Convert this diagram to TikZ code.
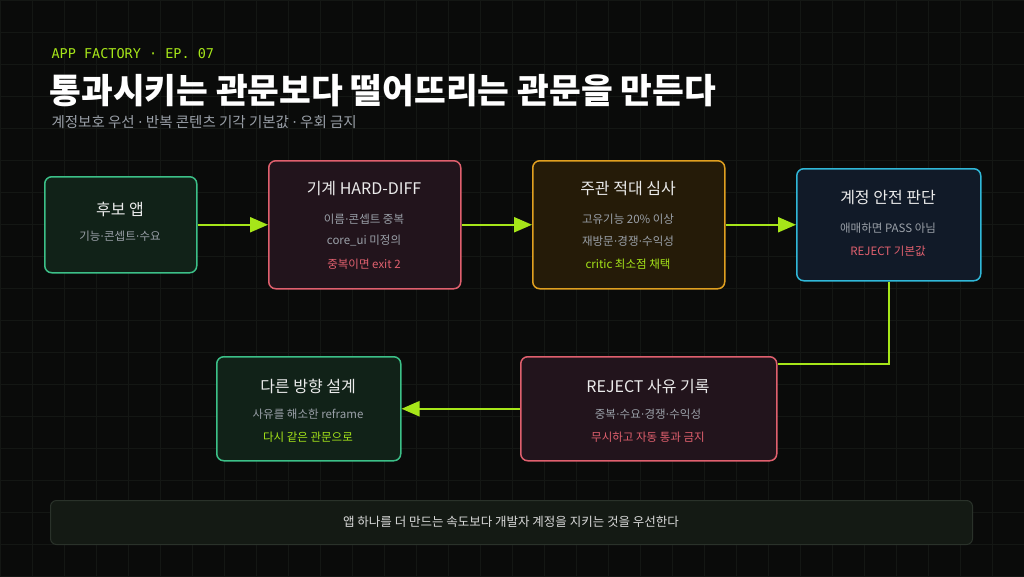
\documentclass[tikz,border=0pt]{standalone}
\usepackage{fontspec}
\setmainfont{Noto Sans CJK KR}
\newfontfamily\monof{DejaVu Sans Mono}
\newfontfamily\djv{DejaVu Sans}
\newcommand\md{{\djv ·}}
\usetikzlibrary{arrows.meta}
\definecolor{bg}{HTML}{0A0B0A}
\definecolor{gridc}{HTML}{141714}
\definecolor{lime}{HTML}{A6E619}
\definecolor{gry}{HTML}{9AA0A8}
\definecolor{redc}{HTML}{E0606E}
\definecolor{grn}{HTML}{3CC088}
\definecolor{org}{HTML}{E0A020}
\definecolor{cya}{HTML}{30B8D8}
\definecolor{fgrn}{HTML}{112218}
\definecolor{fred}{HTML}{22141C}
\definecolor{forg}{HTML}{251B08}
\definecolor{fcya}{HTML}{111A28}
\definecolor{fbar}{HTML}{141A14}
\definecolor{dbar}{HTML}{2A322A}
\begin{document}
\begin{tikzpicture}[x=1pt,y=-1pt,
 box/.style={draw,line width=1.5pt,rounded corners=7pt,anchor=north west,inner sep=0pt},
 ttl/.style={text=white!92!black,font=\fontsize{16}{19}\selectfont},
 sub/.style={text=gry,font=\fontsize{11.5}{14}\selectfont},
 arr/.style={draw=lime,line width=2.2pt,-{Triangle[length=18pt,width=15pt]}}]
\useasboundingbox (0,0) rectangle (1024,576);
\fill[bg] (0,0) rectangle (1024,576);
\foreach \i in {0,32,...,1024} \draw[gridc,line width=0.6pt] (\i,0)--(\i,576);
\foreach \i in {0,32,...,576} \draw[gridc,line width=0.6pt] (0,\i)--(1024,\i);
\node[anchor=west,text=lime,font=\monof\fontsize{13.5}{15}\selectfont] (h1) at (48,54) {APP FACTORY · EP. 07};
\node[anchor=west,text=white,font=\bfseries\fontsize{34.5}{40}\selectfont] (h2) at (46,91) {통과시키는 관문보다 떨어뜨리는 관문을 만든다};
\node[anchor=west,text=gry,font=\fontsize{14.5}{17}\selectfont] (h3) at (48,122) {계정보호 우선 {\djv·} 반복 콘텐츠 기각 기본값 {\djv·} 우회 금지};
% boxes
\node[box,draw=grn,fill=fgrn,minimum width=152pt,minimum height=96pt] (b1) at (44,176) {};
\node[ttl] at (120,209) {후보 앱};
\node[sub] at (120,236) {기능\md 콘셉트\md 수요};
\node[box,draw=redc,fill=fred,minimum width=192pt,minimum height=128pt] (b2) at (268,160) {};
\node[ttl] at (364,189) {기계 HARD-DIFF};
\node[sub] at (364,219) {이름\md 콘셉트 중복};
\node[sub] at (364,241) {core\_ui 미정의};
\node[sub,text=redc] at (364,264) {중복이면 exit 2};
\node[box,draw=org,fill=forg,minimum width=192pt,minimum height=128pt] (b3) at (532,160) {};
\node[ttl] at (628,189) {주관 적대 심사};
\node[sub] at (628,219) {고유기능 20\% 이상};
\node[sub] at (628,241) {재방문\md 경쟁\md 수익성};
\node[sub,text=lime] at (628,264) {critic 최소점 채택};
\node[box,draw=cya,fill=fcya,minimum width=184pt,minimum height=112pt] (b4) at (796,168) {};
\node[ttl] at (888,198) {계정 안전 판단};
\node[sub] at (888,228) {애매하면 PASS 아님};
\node[sub,text=redc] at (888,251) {REJECT 기본값};
\node[box,draw=redc,fill=fred,minimum width=256pt,minimum height=104pt] (b5) at (520,356) {};
\node[ttl] at (648,386) {REJECT 사유 기록};
\node[sub] at (648,414) {중복\md 수요\md 경쟁\md 수익성};
\node[sub,text=redc] at (648,437) {무시하고 자동 통과 금지};
\node[box,draw=grn,fill=fgrn,minimum width=184pt,minimum height=104pt] (b6) at (216,356) {};
\node[ttl] at (308,386) {다른 방향 설계};
\node[sub] at (308,414) {사유를 해소한 reframe};
\node[sub,text=lime] at (308,437) {다시 같은 관문으로};
\node[box,draw=dbar,fill=fbar,line width=1pt,rounded corners=6pt,minimum width=922pt,minimum height=44pt] (b7) at (50,500) {};
\node[text=white!85!black,font=\fontsize{12.5}{14}\selectfont] at (511,522) {앱 하나를 더 만드는 속도보다 개발자 계정을 지키는 것을 우선한다};
% arrows
\draw[arr] (b1.east) -- (b2.west);
\draw[arr] (b2.east) -- (b3.west);
\draw[arr] (b3.east) -- (b4.west);
\draw[draw=lime,line width=2.2pt] (b4.south) |- (b5.north east |- 0,364);
\draw[arr] (b5.west) -- (b6.east);
\end{tikzpicture}
\end{document}
